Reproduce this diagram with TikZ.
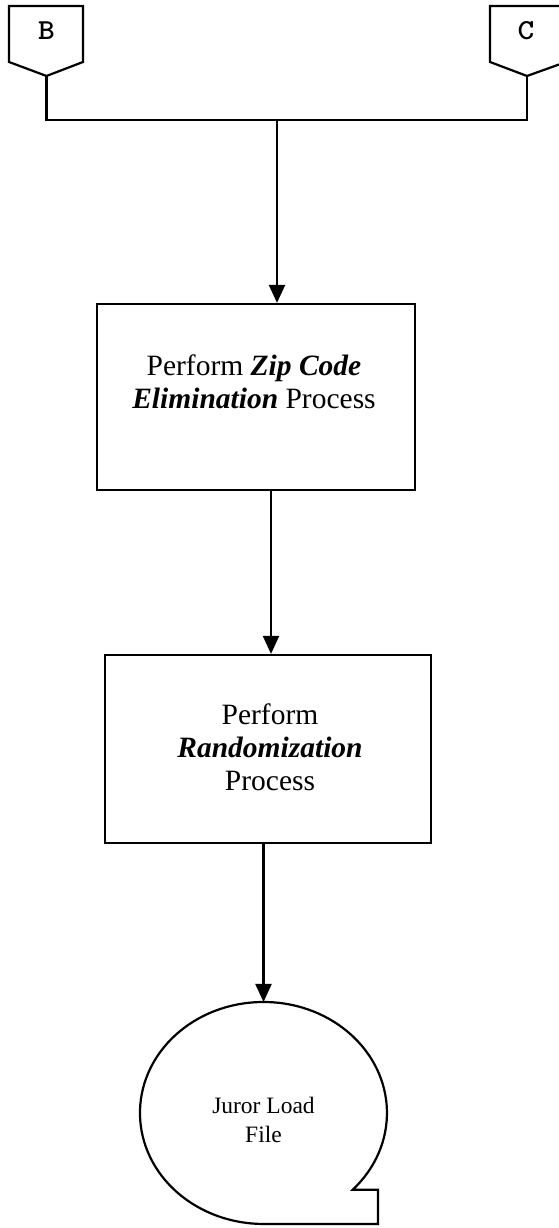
\documentclass[tikz,border=0pt]{standalone}
\usepackage{fontspec}
\setmainfont{Liberation Serif}
\usetikzlibrary{arrows.meta}
\begin{document}
\begin{tikzpicture}[x=1pt,y=1pt,
  line width=2.2pt, line join=miter,
  flow/.style={-{Triangle[width=16pt,length=18pt]}},
  procbox/.style={draw, rectangle, inner sep=0pt},
  proctext/.style={align=center, font=\fontsize{29.5}{33}\selectfont},
  pagetext/.style={font=\ttfamily\bfseries\fontsize{29}{31}\selectfont, xscale=1.1},
  filetext/.style={align=center, font=\fontsize{23.5}{29}\selectfont}]
  \useasboundingbox (0,0) rectangle (559,1228);
  \clip (0,0) rectangle (559,1228);

  % off-page connectors
  \draw (9,1222) -- (83,1222) -- (83,1166) -- (46.5,1152) -- (9,1166) -- cycle;
  \node[pagetext] (B) at (46.5,1197) {B};
  \coordinate (Bp) at (46.5,1152);
  \draw (490,1222) -- (566,1222) -- (566,1166) -- (527,1152) -- (490,1166) -- cycle;
  \node[pagetext] (C) at (526,1197) {C};
  \coordinate (Cp) at (527,1152);

  % merge line
  \coordinate (bus) at (277,1108);
  \draw (Bp) |- (bus) -| (Cp);

  % process boxes
  \node[procbox, minimum width=318pt, minimum height=186pt] (zip) at (256,831) {};
  \node[proctext] (ziptext) at (254,846)
    {Perform \textbf{\textit{Zip Code}}\\\textbf{\textit{Elimination}} Process};
  \node[procbox, minimum width=326pt, minimum height=188pt] (rand) at (268,479) {};
  \node[proctext] (randtext) at (270,481)
    {Perform\\\textbf{\textit{Randomization}}\\Process};

  % sequential storage file
  \coordinate (tapetop) at (263.5,226);
  \draw (352.6,38.2) arc[start angle=-43.8, end angle=270, x radius=123.5, y radius=111]
        -- (378,4) -- (378,38.2) -- cycle;
  \node[filetext] (file) at (263.5,108) {Juror Load\\File};

  % flow
  \draw[flow] (bus) -- (zip.north -| bus);
  \coordinate (a2) at (271,0);
  \draw[flow] (zip.south -| a2) -- (rand.north -| a2);
  \draw[flow] (rand.south -| tapetop) -- (tapetop);
\end{tikzpicture}
\end{document}
